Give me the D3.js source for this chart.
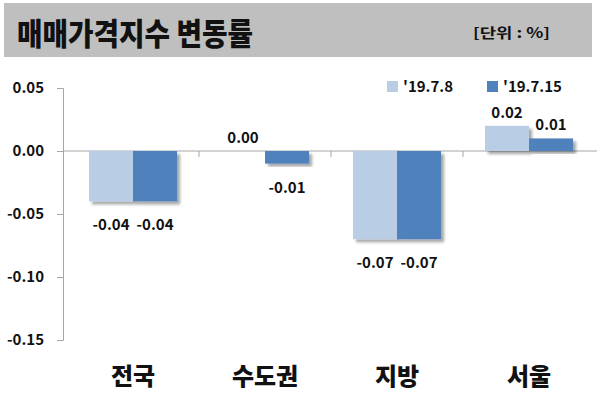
<!DOCTYPE html>
<html>
<head>
<meta charset="utf-8">
<script src="https://cdn.jsdelivr.net/npm/d3@7"></script>
<style>
  body { margin: 0; background: #fff; }
  text { font-family: "Noto Sans CJK KR", "Open Sans", sans-serif; }
</style>
</head>
<body>
<script>
// data
var categories = ["전국", "수도권", "지방", "서울"];
var seriesNames = ["'19.7.8", "'19.7.15"];
var week1 = [-0.04, 0.00, -0.07, 0.02];
var week2 = [-0.04, -0.01, -0.07, 0.01];
var yTicks = [0.05, 0.00, -0.05, -0.10, -0.15];
var colors = ["#b9cde5", "#4f81bd"];

var width = 598, height = 394;

// plain hyphen for negatives, like the source
var fmt = d3.formatLocale({decimal: ".", thousands: ",", grouping: [3], currency: ["", ""], minus: "-"}).format(".2f");

var svg = d3.select("body").append("svg")
    .attr("width", width)
    .attr("height", height);

// drop shadow for bars
var defs = svg.append("defs");
defs.append("filter")
    .attr("id", "shadow")
    .attr("x", "-20%").attr("y", "-20%")
    .attr("width", "140%").attr("height", "140%")
  .append("feDropShadow")
    .attr("dx", 3).attr("dy", 3)
    .attr("stdDeviation", 1.5)
    .attr("flood-color", "#000")
    .attr("flood-opacity", 0.35);

// title band
svg.append("rect")
    .attr("x", 4).attr("y", 3)
    .attr("width", 588).attr("height", 54)
    .attr("fill", "#bfbfbf");

svg.append("text")
    .attr("x", 17).attr("y", 45)
    .attr("font-size", 31)
    .attr("font-weight", 900)
    .attr("fill", "#111")
    .attr("textLength", 236)
    .attr("lengthAdjust", "spacingAndGlyphs")
    .text("매매가격지수 변동률");

svg.append("text")
    .attr("x", 473).attr("y", 38)
    .attr("font-size", 14)
    .attr("font-weight", 700)
    .attr("fill", "#111")
    .attr("textLength", 77)
    .attr("lengthAdjust", "spacingAndGlyphs")
    .text("[단위 : %]");

// scales
var x0 = d3.scaleBand()
    .domain(categories)
    .range([67, 595])
    .padding(0);

var x1 = d3.scaleBand()
    .domain([0, 1])
    .range([0, x0.bandwidth()])
    .paddingInner(0)
    .paddingOuter(0.5);

var y = d3.scaleLinear()
    .domain([-0.15, 0.05])
    .range([340, 88]);

// y axis
var yAxis = d3.axisLeft(y)
    .tickValues(yTicks)
    .tickFormat(fmt)
    .tickSize(6)
    .tickPadding(13);

var gy = svg.append("g")
    .attr("transform", "translate(63,0)")
    .call(yAxis);
gy.select(".domain").attr("stroke", "#a6a6a6");
gy.selectAll(".tick line").attr("stroke", "#a6a6a6");
gy.selectAll(".tick text")
    .attr("font-size", 15)
    .attr("font-weight", 700)
    .attr("fill", "#111")
    .attr("font-family", "'Open Sans', sans-serif");

// x axis at zero
svg.append("line")
    .attr("x1", 63).attr("x2", 597)
    .attr("y1", y(0)).attr("y2", y(0))
    .attr("stroke", "#a6a6a6");

svg.selectAll(".xtick")
    .data(categories.slice(1))
    .enter().append("line")
    .attr("class", "xtick")
    .attr("x1", function(d) { return x0(d); })
    .attr("x2", function(d) { return x0(d); })
    .attr("y1", y(0))
    .attr("y2", y(0) + 6)
    .attr("stroke", "#a6a6a6");

// bars
var rows = [];
categories.forEach(function(c, i) {
  rows.push({cat: c, s: 0, v: week1[i]});
  rows.push({cat: c, s: 1, v: week2[i]});
});

svg.selectAll(".bar")
    .data(rows)
    .enter().append("rect")
    .attr("class", "bar")
    .attr("x", function(d) { return x0(d.cat) + x1(d.s); })
    .attr("width", x1.bandwidth())
    .attr("y", function(d) { return y(Math.max(0, d.v)); })
    .attr("height", function(d) { return Math.abs(y(d.v) - y(0)); })
    .attr("fill", function(d) { return colors[d.s]; })
    .attr("filter", "url(#shadow)");

// value labels
svg.selectAll(".val")
    .data(rows)
    .enter().append("text")
    .attr("class", "val")
    .attr("x", function(d) { return x0(d.cat) + x1(d.s) + x1.bandwidth() / 2; })
    .attr("y", function(d) { return d.v < 0 ? y(d.v) + 29 : y(d.v) - 8; })
    .attr("text-anchor", "middle")
    .attr("font-size", 15)
    .attr("font-weight", 700)
    .attr("fill", "#111")
    .attr("font-family", "'Open Sans', sans-serif")
    .text(function(d) { return fmt(d.v); });

// category labels
svg.selectAll(".cat")
    .data(categories)
    .enter().append("text")
    .attr("class", "cat")
    .attr("x", function(d) { return x0(d) + x0.bandwidth() / 2; })
    .attr("y", 385)
    .attr("text-anchor", "middle")
    .attr("font-size", 24)
    .attr("font-weight", 900)
    .attr("fill", "#111")
    .text(function(d) { return d; });

// legend
var legend = svg.selectAll(".legend")
    .data(seriesNames)
    .enter().append("g")
    .attr("class", "legend")
    .attr("transform", function(d, i) { return "translate(" + (387 + i * 100) + ",81)"; });

legend.append("rect")
    .attr("width", 11).attr("height", 11)
    .attr("fill", function(d, i) { return colors[i]; });

legend.append("text")
    .attr("x", 16).attr("y", 11)
    .attr("font-size", 15)
    .attr("font-weight", 700)
    .attr("fill", "#111")
    .attr("font-family", "'Open Sans', sans-serif")
    .text(function(d) { return d; });
</script>
</body>
</html>
